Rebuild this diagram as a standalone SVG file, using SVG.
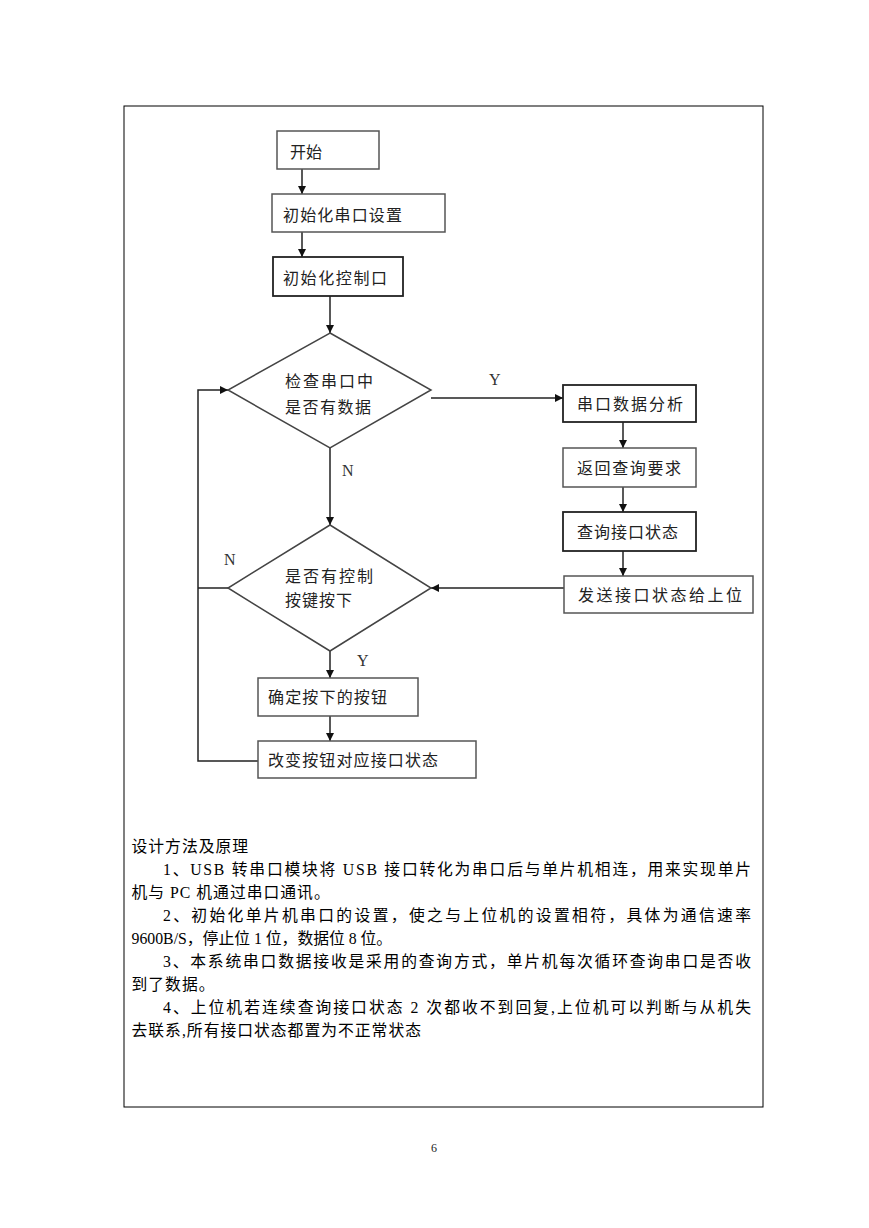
<svg xmlns="http://www.w3.org/2000/svg" width="869" height="1228" viewBox="0 0 869 1228">
<style>
.box{fill:#fff;stroke:#555;stroke-width:1.5}
.dark{stroke:#222;stroke-width:1.8}
.dia{fill:#fff;stroke:#444;stroke-width:1.5}
.ft{font-family:"Noto Sans CJK SC",sans-serif;font-size:16px;fill:#222}
.lbl{font-family:"Liberation Serif",serif;font-size:16px;fill:#333}
.body{font-family:"Liberation Serif","Noto Sans CJK SC",serif;font-size:15.8px;fill:#000}
.ls{letter-spacing:1px}
.con{fill:none;stroke:#222;stroke-width:1.5}
</style>
<defs>
<marker id="ah" markerWidth="8" markerHeight="8" refX="8" refY="4" orient="auto" markerUnits="userSpaceOnUse">
<path d="M0,0 L8,4 L0,8 Z" fill="#111"/>
</marker>
</defs>
<rect x="0" y="0" width="869" height="1228" fill="#fff"/>
<rect id="frame" x="124" y="106" width="639" height="1001" fill="none" stroke="#000" stroke-width="1"/>

<g id="connectors">
<line class="con" x1="302" y1="169" x2="302" y2="194" marker-end="url(#ah)"/>
<line class="con" x1="302" y1="232" x2="302" y2="257" marker-end="url(#ah)"/>
<line class="con" x1="330" y1="296" x2="330" y2="333" marker-end="url(#ah)"/>
<line class="con" x1="431" y1="398" x2="563" y2="398" marker-end="url(#ah)"/>
<line class="con" x1="330" y1="448" x2="330" y2="525" marker-end="url(#ah)"/>
<line class="con" x1="623" y1="422" x2="623" y2="448" marker-end="url(#ah)"/>
<line class="con" x1="623" y1="487" x2="623" y2="512" marker-end="url(#ah)"/>
<line class="con" x1="623" y1="551" x2="623" y2="576" marker-end="url(#ah)"/>
<line class="con" x1="564" y1="588" x2="431" y2="588" marker-end="url(#ah)"/>
<line class="con" x1="330" y1="651" x2="330" y2="678" marker-end="url(#ah)"/>
<line class="con" x1="330" y1="716" x2="330" y2="741" marker-end="url(#ah)"/>
<polyline class="con" points="258,761 198,761 198,390 228,390" marker-end="url(#ah)"/>
<line class="con" x1="229" y1="588" x2="198" y2="588"/>
<text class="lbl" x="489" y="385">Y</text>
<text class="lbl" x="342" y="476">N</text>
<text class="lbl" x="224" y="565">N</text>
<text class="lbl" x="357" y="666">Y</text>
</g>

<g id="start">
<rect class="box" x="277" y="131" width="102" height="38"/>
<text class="ft" x="290" y="157.5" textLength="32" lengthAdjust="spacing">开始</text>
</g>
<g id="init-serial">
<rect class="box" x="272" y="194" width="173" height="38"/>
<text class="ft" x="283" y="221" textLength="119" lengthAdjust="spacing">初始化串口设置</text>
</g>
<g id="init-ctrl">
<rect class="box dark" x="273" y="257" width="130" height="39"/>
<text class="ft" x="283" y="284" textLength="104" lengthAdjust="spacing">初始化控制口</text>
</g>
<g id="check-serial">
<polygon class="dia" points="330,333 431,390 330,448 228,390"/>
<text class="ft" x="285" y="387" textLength="88" lengthAdjust="spacing">检查串口中</text>
<text class="ft" x="285" y="412.5" textLength="86" lengthAdjust="spacing">是否有数据</text>
</g>
<g id="analyze">
<rect class="box dark" x="563" y="385" width="133" height="37"/>
<text class="ft" x="577" y="410" textLength="106" lengthAdjust="spacing">串口数据分析</text>
</g>
<g id="return-query">
<rect class="box" x="563" y="448" width="133" height="39"/>
<text class="ft" x="577" y="474" textLength="104" lengthAdjust="spacing">返回查询要求</text>
</g>
<g id="query-status">
<rect class="box dark" x="563" y="512" width="133" height="39"/>
<text class="ft" x="577" y="538" textLength="101" lengthAdjust="spacing">查询接口状态</text>
</g>
<g id="send-status">
<rect class="box" x="564" y="576" width="189" height="37"/>
<text class="ft" x="578" y="601" textLength="164" lengthAdjust="spacing">发送接口状态给上位</text>
</g>
<g id="check-key">
<polygon class="dia" points="330,525 431,588 330,651 228,588"/>
<text class="ft" x="285" y="582" textLength="88" lengthAdjust="spacing">是否有控制</text>
<text class="ft" x="285" y="606" textLength="67" lengthAdjust="spacing">按键按下</text>
</g>
<g id="confirm-key">
<rect class="box" x="258" y="678" width="160" height="38"/>
<text class="ft" x="268" y="703" textLength="119" lengthAdjust="spacing">确定按下的按钮</text>
</g>
<g id="change-status">
<rect class="box" x="258" y="741" width="218" height="37"/>
<text class="ft" x="268" y="766" textLength="170" lengthAdjust="spacing">改变按钮对应接口状态</text>
</g>

<g id="body-text">
<text class="body ls" x="131.5" y="852">设计方法及原理</text>
<text class="body" x="163" y="875" textLength="588" lengthAdjust="spacing">1、USB 转串口模块将 USB 接口转化为串口后与单片机相连，用来实现单片</text>
<text class="body ls" x="131.5" y="898">机与 PC 机通过串口通讯。</text>
<text class="body" x="163" y="921" textLength="588" lengthAdjust="spacing">2、初始化单片机串口的设置，使之与上位机的设置相符，具体为通信速率</text>
<text class="body" x="131.5" y="944">9600B/S，停止位 1 位，数据位 8 位。</text>
<text class="body" x="163" y="967" textLength="588" lengthAdjust="spacing">3、本系统串口数据接收是采用的查询方式，单片机每次循环查询串口是否收</text>
<text class="body ls" x="131.5" y="990">到了数据。</text>
<text class="body" x="163" y="1013" textLength="588" lengthAdjust="spacing">4、上位机若连续查询接口状态 2 次都收不到回复,上位机可以判断与从机失</text>
<text class="body ls" x="131.5" y="1036">去联系,所有接口状态都置为不正常状态</text>
</g>
<text id="page-number" x="434" y="1152" text-anchor="middle" font-family="Liberation Serif, serif" font-size="12" fill="#222">6</text>
</svg>
